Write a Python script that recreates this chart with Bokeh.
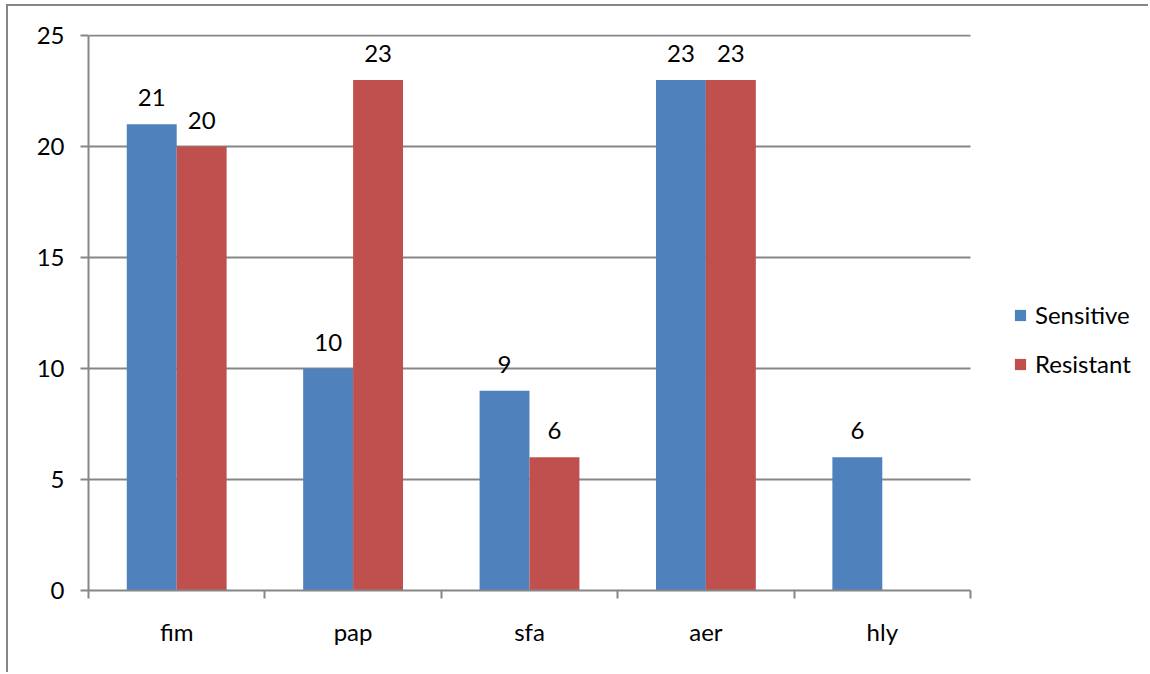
from bokeh.plotting import figure
from bokeh.models import ColumnDataSource, FixedTicker, Legend, LegendItem, Range1d, LabelSet
from bokeh.core.properties import value
from bokeh.embed import file_html
from bokeh.resources import INLINE
import numpy as np

categories = ["fim", "pap", "sfa", "aer", "hly"]
sensitive = [21, 10, 9, 23, 6]
resistant = [20, 23, 6, 23, 0]
y_ticks = [0, 5, 10, 15, 20, 25]

BLUE = "#4F81BD"
RED = "#C0504D"
GRAY = "#868686"
FONT = "Lato"
FS = "24px"

n = len(categories)
bar_w = 0.283
centers = np.arange(n) + 0.5

# layout in pixels
W, H = 1142, 668
LEFT, TOP, BOTTOM = 80, 28, 84
PLOT_W = 882                      # width of the category area
FRAME_W = W - LEFT                # frame runs to the right edge to host the legend
x_end = n * FRAME_W / PLOT_W
y_end = 25 + 1.0 / ((H - TOP - BOTTOM - 1) / 25)

# drop empty bars and their labels
sens_idx = [i for i, v in enumerate(sensitive) if v > 0]
res_idx = [i for i, v in enumerate(resistant) if v > 0]

src_s = ColumnDataSource(dict(
    x=[centers[i] - bar_w / 2 for i in sens_idx],
    top=[sensitive[i] for i in sens_idx],
    lbl=[str(sensitive[i]) for i in sens_idx],
))
src_r = ColumnDataSource(dict(
    x=[centers[i] + bar_w / 2 for i in res_idx],
    top=[resistant[i] for i in res_idx],
    lbl=[str(resistant[i]) for i in res_idx],
))

p = figure(width=W, height=H, output_backend="svg", toolbar_location=None,
           x_range=Range1d(0, x_end), y_range=Range1d(0, y_end),
           min_border_left=LEFT, min_border_right=0, min_border_top=TOP, min_border_bottom=BOTTOM)
p.styles = {"margin-left": "6px", "margin-top": "4px",
            "border-left": "2px solid #868686", "border-top": "2px solid #868686"}
p.outline_line_color = None
p.background_fill_color = "white"
p.border_fill_color = "white"

# horizontal gridlines across the category area only
grid_y = [t for t in y_ticks if t > 0]
p.segment(x0=[0] * len(grid_y), x1=[n] * len(grid_y), y0=grid_y, y1=grid_y,
          line_color=GRAY, line_width=2)

rs = p.vbar(x="x", top="top", width=bar_w, source=src_s, fill_color=BLUE, line_color=None)
rr = p.vbar(x="x", top="top", width=bar_w, source=src_r, fill_color=RED, line_color=None)

for src in (src_s, src_r):
    p.add_layout(LabelSet(x="x", y="top", text="lbl", source=src, text_align="center",
                          text_baseline="bottom", y_offset=18, text_font=value(FONT),
                          text_font_size=value(FS), text_color="black"))

# x axis: category boundaries as tick marks, names at centers
xa = p.xaxis[0]
xa.bounds = (0, n)
xa.ticker = FixedTicker(ticks=list(centers), minor_ticks=list(range(n + 1)))
xa.major_label_overrides = {float(c): name for c, name in zip(centers, categories)}
xa.major_tick_out = 0
xa.major_tick_in = 0
xa.minor_tick_out = 8
xa.minor_tick_in = 0
xa.minor_tick_line_color = GRAY
xa.minor_tick_line_width = 2
xa.axis_line_color = GRAY
xa.axis_line_width = 2
xa.major_label_standoff = 18
xa.major_label_text_font = FONT
xa.major_label_text_font_size = FS
xa.major_label_text_color = "black"

ya = p.yaxis[0]
ya.bounds = (0, 25)
ya.ticker = FixedTicker(ticks=y_ticks)
ya.major_tick_out = 8
ya.major_tick_in = 0
ya.minor_tick_line_color = None
ya.major_tick_line_color = GRAY
ya.major_tick_line_width = 2
ya.axis_line_color = GRAY
ya.axis_line_width = 2
ya.major_label_standoff = 16
ya.major_label_text_font = FONT
ya.major_label_text_font_size = FS
ya.major_label_text_color = "black"

p.xgrid.grid_line_color = None
p.ygrid.grid_line_color = None

legend = Legend(items=[LegendItem(label="Sensitive", renderers=[rs]),
                       LegendItem(label="Resistant", renderers=[rr])],
                location=(925, 212))
legend.glyph_width = 14
legend.glyph_height = 14
legend.label_height = 24
legend.label_text_font = FONT
legend.label_text_font_size = FS
legend.label_text_color = "black"
legend.label_standoff = 8
legend.spacing = 20
legend.border_line_color = None
legend.background_fill_alpha = 0
legend.padding = 0
legend.margin = 0
p.add_layout(legend, "center")

open("out.html", "w").write(file_html(p, INLINE))
